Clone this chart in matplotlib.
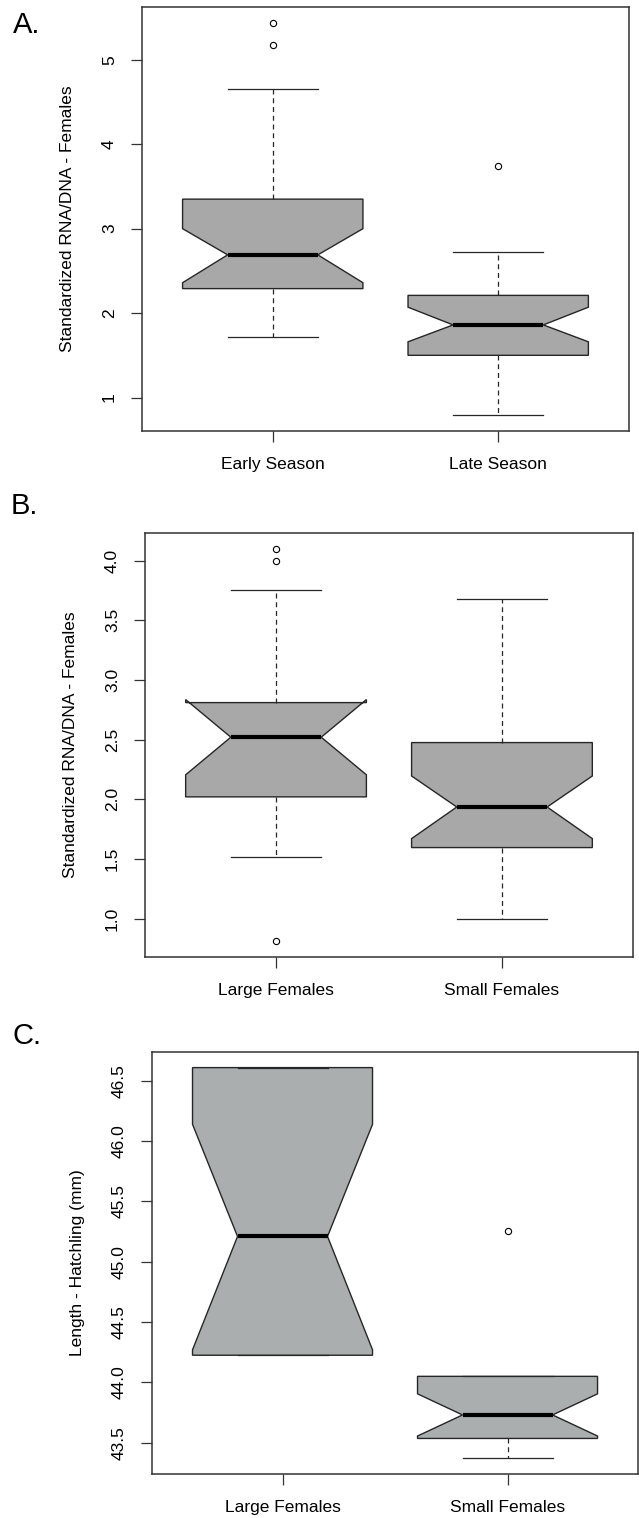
import matplotlib.pyplot as plt

plt.rcParams['font.family'] = ['Liberation Sans', 'DejaVu Sans']

# panel A - season
season_labels = ["Early Season", "Late Season"]
season_whislo = [1.72, 0.79]
season_q1 = [2.29, 1.50]
season_cilo = [2.36, 1.66]
season_med = [2.69, 1.86]
season_cihi = [3.00, 2.07]
season_q3 = [3.35, 2.21]
season_whishi = [4.65, 2.72]
season_fliers = [[5.17, 5.44], [3.74]]
season_ticks = [1, 2, 3, 4, 5]
season_ticklabels = ["1", "2", "3", "4", "5"]

# panel B - female size, RNA/DNA
size_labels = ["Large Females", "Small Females"]
size_whislo = [1.52, 1.00]
size_q1 = [2.02, 1.595]
size_cilo = [2.205, 1.67]
size_med = [2.52, 1.935]
size_cihi = [2.835, 2.195]
size_q3 = [2.81, 2.475]
size_whishi = [3.75, 3.68]
size_fliers = [[0.81, 4.00, 4.10], []]
size_ticks = [1.0, 1.5, 2.0, 2.5, 3.0, 3.5, 4.0]
size_ticklabels = ["1.0", "1.5", "2.0", "2.5", "3.0", "3.5", "4.0"]

# panel C - hatchling length
hatch_labels = ["Large Females", "Small Females"]
hatch_whislo = [44.225, 43.37]
hatch_q1 = [44.225, 43.535]
hatch_cilo = [44.27, 43.555]
hatch_med = [45.21, 43.73]
hatch_cihi = [46.14, 43.905]
hatch_q3 = [46.61, 44.05]
hatch_whishi = [46.61, 44.05]
hatch_fliers = [[], [45.255]]
hatch_ticks = [43.5, 44.0, 44.5, 45.0, 45.5, 46.0, 46.5]
hatch_ticklabels = ["43.5", "44.0", "44.5", "45.0", "45.5", "46.0", "46.5"]


def make_stats(labels, whislo, q1, cilo, med, cihi, q3, whishi, fliers):
    stats = []
    for i in range(len(labels)):
        stats.append({"label": labels[i], "whislo": whislo[i], "q1": q1[i],
                      "cilo": cilo[i], "med": med[i], "cihi": cihi[i],
                      "q3": q3[i], "whishi": whishi[i], "fliers": fliers[i]})
    return stats


def draw_panel(ax, stats, fill, ylabel, ticks, ticklabels):
    ax.bxp(stats, positions=[1, 2], widths=0.8, shownotches=True,
           patch_artist=True,
           boxprops=dict(facecolor=fill, edgecolor="#262626", linewidth=1.0),
           medianprops=dict(color="black", linewidth=3.0, solid_capstyle="butt"),
           whiskerprops=dict(color="#262626", linewidth=0.9, linestyle=(0, (4, 3))),
           capprops=dict(color="#262626", linewidth=0.9),
           flierprops=dict(marker="o", markersize=4.5, markerfacecolor="none",
                           markeredgecolor="black", markeredgewidth=0.8))
    lo = min(min(s["whislo"], min(s["fliers"], default=s["whislo"])) for s in stats)
    hi = max(max(s["whishi"], max(s["fliers"], default=s["whishi"])) for s in stats)
    pad = (hi - lo) * 0.04
    ax.set_ylim(lo - pad, hi + pad)
    ax.set_xlim(0.42, 2.58)
    ax.set_yticks(ticks)
    ax.set_yticklabels(ticklabels, rotation=90, va="center")
    ax.set_xticks([1, 2])
    ax.set_xticklabels([s["label"] for s in stats])
    ax.tick_params(axis="both", direction="out", length=8, width=0.9,
                   color="#333333", labelsize=12.5)
    ax.tick_params(axis="y", pad=10)
    ax.tick_params(axis="x", pad=11)
    for sp in ax.spines.values():
        sp.set_color("#333333")
        sp.set_linewidth(1.1)
    ax.set_ylabel(ylabel, fontsize=12.5, va="center")
    ax.yaxis.set_label_coords(-0.153, 0.5)


fig = plt.figure(figsize=(6.39, 15.18), dpi=100)

ax1 = fig.add_axes([0.2222, 0.7161, 0.7621, 0.2793])
draw_panel(ax1, make_stats(season_labels, season_whislo, season_q1, season_cilo,
                           season_med, season_cihi, season_q3, season_whishi,
                           season_fliers),
           "#a8a8a8", "Standardized RNA/DNA - Females", season_ticks, season_ticklabels)

ax2 = fig.add_axes([0.2269, 0.3696, 0.7637, 0.2793])
draw_panel(ax2, make_stats(size_labels, size_whislo, size_q1, size_cilo,
                           size_med, size_cihi, size_q3, size_whishi,
                           size_fliers),
           "#a8a8a8", "Standardized RNA/DNA - Females", size_ticks, size_ticklabels)

ax3 = fig.add_axes([0.2379, 0.0290, 0.7606, 0.2780])
draw_panel(ax3, make_stats(hatch_labels, hatch_whislo, hatch_q1, hatch_cilo,
                           hatch_med, hatch_cihi, hatch_q3, hatch_whishi,
                           hatch_fliers),
           "#aaaeaf", "Length - Hatchling (mm)", hatch_ticks, hatch_ticklabels)

fig.text(13 / 639, 1 - 11 / 1518, "A.", fontsize=21, va="top", ha="left")
fig.text(11 / 639, 1 - 492 / 1518, "B.", fontsize=21, va="top", ha="left")
fig.text(12 / 639, 1 - 1022 / 1518, "C.", fontsize=21, va="top", ha="left")

plt.savefig("out.png", dpi=100)
